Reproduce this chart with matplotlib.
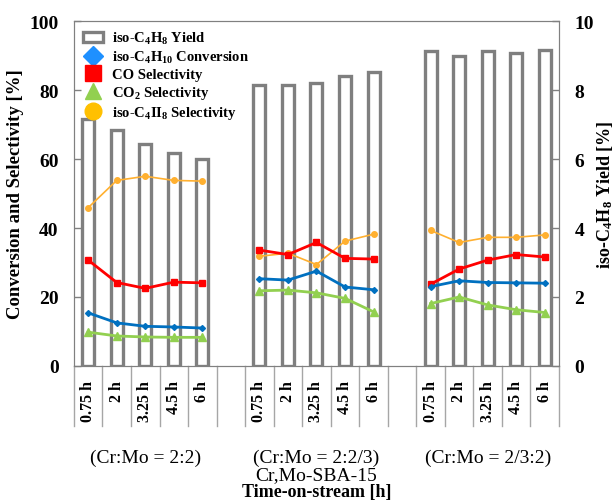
import numpy as np
import matplotlib
matplotlib.use("Agg")
import matplotlib.pyplot as plt
from matplotlib.lines import Line2D
from matplotlib.patches import Patch
import matplotlib.transforms as mtransforms

plt.rcParams["font.family"] = "Liberation Serif"
plt.rcParams["mathtext.fontset"] = "custom"
plt.rcParams["mathtext.rm"] = "Liberation Serif"
plt.rcParams["mathtext.bf"] = "Liberation Serif:bold"
plt.rcParams["mathtext.default"] = "bf"

# ─── Data ──────────────────────────────────────────────────────────────────────
times = ["0.75 h", "2 h", "3.25 h", "4.5 h", "6 h"]
groups = ["(Cr:Mo = 2:2)", "(Cr:Mo = 2:2/3)", "(Cr:Mo = 2/3:2)"]

yield_c4h8 = [[7.15, 6.85, 6.43, 6.18, 6.00],
              [8.15, 8.15, 8.20, 8.40, 8.52],
              [9.13, 8.99, 9.13, 9.07, 9.16]]
conv_c4h10 = [[15.4, 12.5, 11.5, 11.3, 11.0],
              [25.3, 24.9, 27.5, 22.9, 22.1],
              [23.0, 24.7, 24.2, 24.1, 24.0]]
sel_co = [[30.7, 24.2, 22.5, 24.3, 24.1],
          [33.6, 32.3, 35.8, 31.2, 31.0],
          [23.7, 28.1, 30.7, 32.3, 31.6]]
sel_co2 = [[9.8, 8.7, 8.4, 8.3, 8.3],
           [21.8, 22.0, 21.2, 19.6, 15.7],
           [18.1, 20.0, 17.7, 16.3, 15.5]]
sel_c4h8 = [[45.9, 53.8, 55.0, 53.8, 53.6],
            [31.8, 32.7, 29.4, 36.2, 38.2],
            [39.3, 35.8, 37.3, 37.3, 38.0]]

# ─── Layout ────────────────────────────────────────────────────────────────────
n_t = len(times)
slot = n_t + 1  # one blank slot between groups
n_slots = slot * len(groups) - 1
gx = [np.arange(n_t) + g * slot for g in range(len(groups))]

fig = plt.figure(figsize=(6.16, 5.02), dpi=100)
ax = fig.add_axes([0.120, 0.269, 0.7875, 0.687])
ax2 = ax.twinx()
ax.set_zorder(ax2.get_zorder() + 1)
ax.patch.set_visible(False)

bar_c = "#7f7f7f"
for g in range(len(groups)):
    ax2.bar(gx[g], yield_c4h8[g], width=0.42, facecolor="white",
            edgecolor=bar_c, linewidth=2.4)

c_blue, c_red, c_green, c_orange = "#0070c0", "#ff0000", "#92d050", "#ffb030"
for g in range(len(groups)):
    ax.plot(gx[g], sel_c4h8[g], color=c_orange, lw=1.2, marker="o", ms=4)
    ax.plot(gx[g], sel_co[g], color=c_red, lw=2, marker="s", ms=5)
    ax.plot(gx[g], conv_c4h10[g], color=c_blue, lw=2, marker="D", ms=3)
    ax.plot(gx[g], sel_co2[g], color=c_green, lw=2, marker="^", ms=6)

ax.set_xlim(-0.5, n_slots - 0.5)
ax.set_ylim(0, 100)
ax2.set_ylim(0, 10)
ax.set_yticks(np.arange(0, 101, 20))
ax2.set_yticks(np.arange(0, 11, 2))

# x tick labels (rotated), blank slots have none
ax.set_xticks([x for g in gx for x in g])
ax.set_xticklabels(times * len(groups), rotation=90, fontweight="bold",
                   fontsize=11.5)
ax.tick_params(axis="x", length=0, pad=10)

# table-like separators below the axis
trans = mtransforms.blended_transform_factory(ax.transData, ax.transAxes)
for k in range(n_slots + 1):
    ax.plot([k - 0.5, k - 0.5], [0, -0.175], transform=trans, color="#a6a6a6",
            lw=1, clip_on=False)

for a in (ax, ax2):
    a.tick_params(axis="y", direction="in", length=5, labelsize=14, width=1,
                  colors="#808080", labelcolor="black", pad=11)
    for s in a.spines.values():
        s.set_color("#808080")
for lbl in ax.get_yticklabels() + ax2.get_yticklabels():
    lbl.set_fontweight("bold")

ax.set_ylabel("Conversion and Selectivity [%]", fontsize=13.5,
              fontweight="bold", labelpad=4)
ax2.set_ylabel("iso-C$_4$H$_8$ Yield [%]", fontsize=13, fontweight="bold",
               labelpad=1)

# group / catalyst labels
for g in range(len(groups)):
    ax.text(gx[g].mean(), -0.264, groups[g], transform=trans, ha="center",
            va="center", fontsize=14)
ax.text(gx[1].mean(), -0.316, "Cr,Mo-SBA-15", transform=trans, ha="center",
        va="center", fontsize=14)
ax.text(gx[1].mean(), -0.365, "Time-on-stream [h]", transform=trans,
        ha="center", va="center", fontsize=13, fontweight="bold")

handles = [
    Patch(facecolor="white", edgecolor=bar_c, linewidth=2.4),
    Line2D([], [], ls="none", marker="D", ms=10, color="#1e90ff"),
    Line2D([], [], ls="none", marker="s", ms=11, color=c_red),
    Line2D([], [], ls="none", marker="^", ms=12, color=c_green),
    Line2D([], [], ls="none", marker="o", ms=12, color="#ffc000"),
]
labels = ["iso-C$_4$H$_8$ Yield", "iso-C$_4$H$_{10}$ Conversion",
          "CO Selectivity", "CO$_2$ Selectivity", "iso-C$_4$II$_8$ Selectivity"]
ax.legend(handles, labels, loc="upper left", frameon=False,
          prop={"weight": "bold", "size": 10.5}, handlelength=1.4,
          handletextpad=0.6, labelspacing=0.2, borderaxespad=0.2)

fig.savefig("out.png", dpi=100)
